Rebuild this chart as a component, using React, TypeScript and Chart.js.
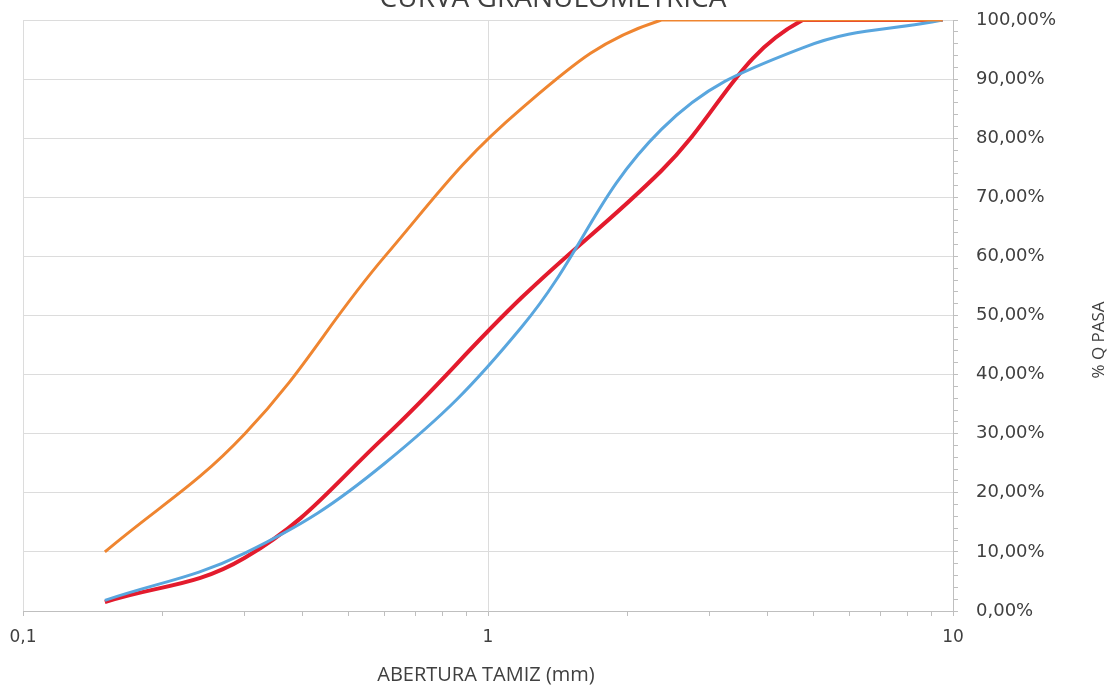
import React, { useEffect, useRef } from "react";
import { Chart, registerables } from "chart.js";

Chart.register(...registerables);

const sieveSizes = [0.15, 0.3, 0.6, 1.18, 2.36, 4.75, 9.5];
const upperLimit = [10, 30, 60, 85, 100, 100, 100];
const sampleA = [1.8, 9.8, 25, 48, 81.5, 95.3, 100];
const sampleB = [1.5, 9, 29.5, 53, 74.5, 100, 100];
const xTickValues = [0.1, 0.2, 0.3, 0.4, 0.5, 0.6, 0.7, 0.8, 0.9, 1, 2, 3, 4, 5, 6, 7, 8, 9, 10];
const xTickLabels: Record<string, string> = { "0.1": "0,1", "1": "1", "10": "10" };

const chartTitle = "CURVA GRANULOMETRICA";
const xTitle = "ABERTURA TAMIZ (mm)";
const yTitle = "% Q PASA";

const toPoints = (ys: number[]) => sieveSizes.map((x, i) => ({ x, y: ys[i] }));

const textPlugin = {
  id: "texts",
  afterDraw(chart: any) {
    const { ctx } = chart;
    ctx.save();
    ctx.fillStyle = "#404040";
    ctx.textAlign = "center";
    ctx.textBaseline = "alphabetic";
    ctx.font = "28px 'Open Sans'";
    ctx.fillText(chartTitle, 553, 7);
    ctx.font = "20px 'Open Sans'";
    ctx.textBaseline = "middle";
    ctx.fillText(xTitle, 486, 675);
    ctx.font = "17px 'Open Sans'";
    ctx.translate(1099, 340);
    ctx.rotate(-Math.PI / 2);
    ctx.fillText(yTitle, 0, 0);
    ctx.restore();
  },
};

export default function App() {
  const ref = useRef<HTMLCanvasElement>(null);
  useEffect(() => {
    document.body.style.margin = "0";
    const chart = new Chart(ref.current!, {
      type: "scatter",
      data: {
        datasets: [
          {
            label: "Límite superior",
            data: toPoints(upperLimit),
            showLine: true,
            borderColor: "#EF8530",
            borderWidth: 3,
            pointRadius: 0,
            tension: 0.4,
          },
          {
            label: "Muestra 1",
            data: toPoints(sampleA),
            showLine: true,
            borderColor: "#59A6DE",
            borderWidth: 3,
            pointRadius: 0,
            tension: 0.4,
          },
          {
            label: "Muestra 2",
            data: toPoints(sampleB),
            showLine: true,
            borderColor: "#E31B2D",
            borderWidth: 4,
            pointRadius: 0,
            tension: 0.4,
          },
        ],
      },
      options: {
        animation: false,
        responsive: false,
        layout: { padding: { left: 23, top: 20, right: 0, bottom: 0 } },
        plugins: { legend: { display: false }, tooltip: { enabled: false }, title: { display: false } },
        scales: {
          x: {
            type: "logarithmic",
            min: 0.1,
            max: 10,
            afterBuildTicks: (scale: any) => {
              scale.ticks = xTickValues.map((v) => ({ value: v }));
            },
            afterFit: (scale: any) => {
              scale.height = 75;
              scale.paddingLeft = 0;
              scale.paddingRight = 0;
            },
            ticks: {
              autoSkip: false,
              maxRotation: 0,
              padding: 11,
              color: "#404040",
              font: { family: "'DejaVu Sans'", size: 17 },
              callback: (v: any) => xTickLabels[String(Number(v))] ?? "",
            },
            grid: {
              color: (c: any) => (xTickLabels[String(c.tick?.value)] !== undefined ? "#dcdcdc" : "rgba(0,0,0,0)"),
              tickColor: "#bfbfbf",
              tickLength: 5,
            },
            border: { color: "#bfbfbf" },
          },
          y: {
            position: "right",
            min: 0,
            max: 100,
            afterFit: (scale: any) => {
              scale.width = 160;
              scale.paddingTop = 0;
              scale.paddingBottom = 0;
            },
            ticks: {
              stepSize: 2,
              autoSkip: false,
              padding: 18,
              color: "#404040",
              font: { family: "'DejaVu Sans'", size: 18 },
              callback: (v: any) => (Number(v) % 10 === 0 ? Number(v).toFixed(2).replace(".", ",") + "%" : ""),
            },
            grid: {
              color: (c: any) => (c.tick && c.tick.value % 10 === 0 ? "#dcdcdc" : "rgba(0,0,0,0)"),
              tickColor: "#bfbfbf",
              tickLength: 5,
            },
            border: { color: "#bfbfbf" },
          },
        },
      },
      plugins: [textPlugin],
    } as any);
    return () => chart.destroy();
  }, []);
  return <canvas ref={ref} width={1113} height={686} style={{ display: "block" }} />;
}
